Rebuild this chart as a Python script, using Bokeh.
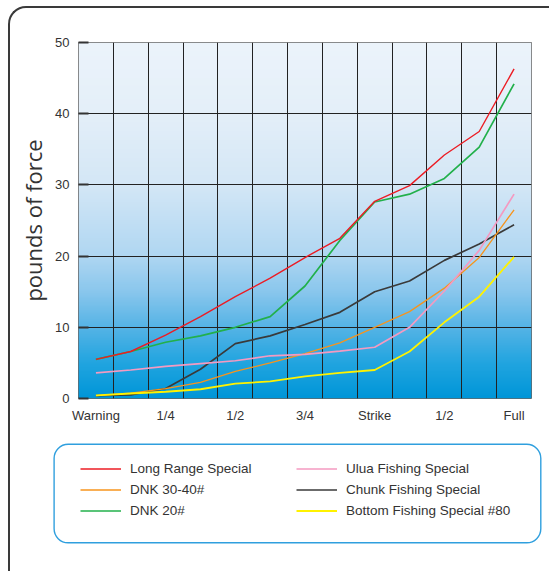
import numpy as np
from bokeh.plotting import figure
from bokeh.layouts import column
from bokeh.models import Range1d, FixedTicker, BoxAnnotation, Legend, LegendItem
from bokeh.embed import file_html
from bokeh.resources import INLINE

# ---------------- data ----------------
stage_index = list(range(13))
stage_labels = ["Warning", "", "1/4", "", "1/2", "", "3/4", "", "Strike", "", "1/2", "", "Full"]
y_ticks = [0, 10, 20, 30, 40, 50]

long_range_special = [5.5, 6.6, 8.9, 11.5, 14.3, 16.9, 19.8, 22.5, 27.7, 29.9, 34.2, 37.5, 46.3]
dnk_30_40 = [0.4, 0.75, 1.4, 2.25, 3.8, 5.0, 6.3, 7.8, 10.0, 12.2, 15.5, 19.8, 26.5]
dnk_20 = [5.5, 6.6, 7.9, 8.8, 10.0, 11.5, 15.8, 22.2, 27.6, 28.7, 30.9, 35.3, 44.2]
ulua_fishing_special = [3.6, 4.0, 4.5, 4.9, 5.3, 6.0, 6.2, 6.65, 7.2, 10.0, 15.1, 20.8, 28.7]
chunk_fishing_special = [0.4, 0.5, 1.4, 4.1, 7.7, 8.8, 10.4, 12.1, 15.0, 16.5, 19.4, 21.7, 24.4]
bottom_fishing_special_80 = [0.45, 0.7, 0.95, 1.3, 2.1, 2.4, 3.1, 3.6, 4.0, 6.6, 10.7, 14.3, 19.9]

series_names = ["Long Range Special", "DNK 30-40#", "DNK 20#",
                "Ulua Fishing Special", "Chunk Fishing Special", "Bottom Fishing Special #80"]
series_colors = ["#ec1c24", "#f7941d", "#22b04b", "#f49ac1", "#3a3a3a", "#fff200"]
series_widths = [1.4, 1.3, 1.7, 1.7, 1.7, 1.8]
series_values = [long_range_special, dnk_30_40, dnk_20,
                 ulua_fishing_special, chunk_fishing_special, bottom_fishing_special_80]
draw_order = [4, 1, 3, 2, 5, 0]

FONT = "Liberation Sans"
TXT = "#333333"

chart = figure(width=539, height=422, output_backend="svg", toolbar_location=None,
               x_range=Range1d(-0.5, 12.5), y_range=Range1d(0, 50),
               min_border_left=68, min_border_right=18, min_border_top=34, min_border_bottom=32,
               border_fill_alpha=0, background_fill_color="white")

# background gradient (light at top, blue at bottom)
grad_vals = [0, 5, 10, 15, 20, 30, 40, 50]
grad_cols = [(0, 150, 216), (34, 165, 224), (86, 180, 230), (138, 199, 237),
             (176, 215, 242), (212, 231, 246), (228, 239, 249), (236, 244, 251)]
n_rows = 400
rows = np.linspace(0, 50, n_rows)
img = np.empty((n_rows, 1), dtype=np.uint32)
view = img.view(dtype=np.uint8).reshape((n_rows, 1, 4))
for k in range(3):
    view[:, 0, k] = np.interp(rows, grad_vals, [c[k] for c in grad_cols]).astype(np.uint8)
view[:, 0, 3] = 255
bg = chart.image_rgba(image=[img], x=-0.5, y=0, dw=13, dh=50)
bg.level = "image"

# grid
chart.xgrid.ticker = FixedTicker(ticks=[-0.5 + k for k in range(14)])
chart.ygrid.ticker = FixedTicker(ticks=y_ticks)
for g in (chart.xgrid, chart.ygrid):
    g.grid_line_color = "#222222"
    g.grid_line_width = 1
    g.grid_line_alpha = 1.0
chart.outline_line_color = "#666666"
chart.outline_line_width = 1

# axes
chart.xaxis.ticker = FixedTicker(ticks=[0, 2, 4, 6, 8, 10, 12])
chart.xaxis.major_label_overrides = {i: stage_labels[i] for i in range(0, 13, 2)}
chart.yaxis.ticker = FixedTicker(ticks=y_ticks)
for ax in (chart.xaxis, chart.yaxis):
    ax.axis_line_color = None
    ax.minor_tick_line_color = None
    ax.major_label_text_font = FONT
    ax.major_label_text_font_size = "13px"
    ax.major_label_text_color = TXT
chart.xaxis.major_tick_line_color = None
chart.xaxis.major_tick_in = 0
chart.xaxis.major_tick_out = 0
chart.xaxis.major_label_standoff = 9
chart.yaxis.major_tick_in = 10
chart.yaxis.major_tick_out = 0
chart.yaxis.major_tick_line_color = "#333333"
chart.yaxis.major_tick_line_width = 2
chart.yaxis.major_label_standoff = 9
chart.yaxis.axis_label = "pounds of force"
chart.yaxis.axis_label_text_font = "Open Sans"
chart.yaxis.axis_label_text_font_size = "22px"
chart.yaxis.axis_label_text_font_style = "normal"
chart.yaxis.axis_label_text_color = TXT
chart.yaxis.axis_label_standoff = 4

for i in draw_order:
    chart.line(stage_index, series_values[i], line_color=series_colors[i],
               line_width=series_widths[i])

# ---------------- legend panel ----------------
leg = figure(width=539, height=141, output_backend="svg", toolbar_location=None,
             x_axis_type=None, y_axis_type=None,
             x_range=Range1d(0, 539), y_range=Range1d(141, 0),
             min_border=0, min_border_left=0, min_border_right=0,
             min_border_top=0, min_border_bottom=0,
             outline_line_color=None, border_fill_alpha=0, background_fill_alpha=0)

for f in (chart, leg):
    try:
        f.frame_align = False
    except Exception:
        pass

# legend swatches (style carriers only, nothing plotted)
swatches = [leg.line([0, 1], [np.nan, np.nan], line_color=series_colors[i],
                     line_width=series_widths[i]) for i in range(6)]
legend = Legend(items=[LegendItem(label=series_names[i], renderers=[swatches[i]]) for i in range(6)],
                location=(70, 52), orientation="vertical", nrows=3)
legend.border_line_color = None
legend.background_fill_alpha = 0
legend.padding = 0
legend.margin = 0
legend.spacing = 4
legend.glyph_width = 41
legend.glyph_height = 17
legend.label_height = 17
legend.label_standoff = 9
legend.label_width = 162
legend.label_text_font = FONT
legend.label_text_font_size = "13.5px"
legend.label_text_color = TXT
leg.add_layout(legend, "center")

leg.add_layout(BoxAnnotation(left=43.6, right=530.3, top=13.8, bottom=112.3,
                             fill_color=None, fill_alpha=0, line_color="#2f9fde",
                             line_alpha=1.0, line_width=1.4, border_radius=14))

layout = column(chart, leg, margin=(6, 0, 0, 8),
                styles={"border-top": "2px solid #3a3a3a",
                        "border-left": "2px solid #3a3a3a",
                        "border-top-left-radius": "18px"})

open("out.html", "w").write(file_html(layout, INLINE))
